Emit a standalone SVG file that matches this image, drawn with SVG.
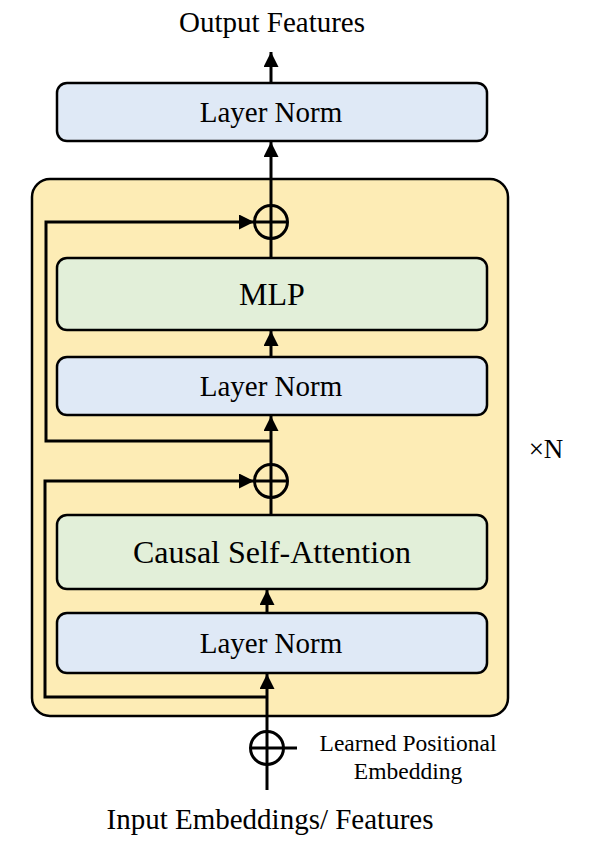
<svg xmlns="http://www.w3.org/2000/svg" width="590" height="850" viewBox="0 0 590 850">
<defs>
<style>
.box{stroke:#000;stroke-width:2.5}
.ln{fill:#DFE9F6}
.gr{fill:#E2EFD9}
.t{font-family:"Liberation Serif","Times New Roman",serif;fill:#000;text-anchor:middle}
.c{fill:none;stroke:#000;stroke-width:3}
.w{fill:none;stroke:#000;stroke-width:3}
</style>
<marker id="ah" viewBox="0 0 10 10" refX="10" refY="5" markerWidth="5" markerHeight="5" orient="auto" markerUnits="strokeWidth">
<path d="M0,0 L10,5 L0,10 Z" fill="#000"/>
</marker>
</defs>
<rect width="590" height="850" fill="#fff"/>
<g id="block">
<rect x="32" y="179" width="476" height="537" rx="18" fill="#FDECB5" stroke="#000" stroke-width="2.5"/>
</g>
<g id="ln_top">
<rect class="box ln" x="57" y="83" width="430" height="58" rx="10"/>
<text class="t" x="271" y="121.5" font-size="29">Layer Norm</text>
</g>
<g id="mlp">
<rect class="box gr" x="57" y="258" width="430" height="72" rx="10"/>
<text class="t" x="272" y="305" font-size="32">MLP</text>
</g>
<g id="ln2">
<rect class="box ln" x="57" y="357" width="430" height="58" rx="10"/>
<text class="t" x="271" y="395.5" font-size="29">Layer Norm</text>
</g>
<g id="attn">
<rect class="box gr" x="57" y="515" width="430" height="74" rx="10"/>
<text class="t" x="272" y="563" font-size="32">Causal Self-Attention</text>
</g>
<g id="ln1">
<rect class="box ln" x="57" y="613" width="430" height="60" rx="10"/>
<text class="t" x="271" y="653" font-size="29">Layer Norm</text>
</g>
<g id="add_top">
<circle class="c" cx="271" cy="222" r="16.5"/>
<path class="w" d="M254.5,222 H287.5 M271,205.5 V238.5"/>
</g>
<g id="add_mid">
<circle class="c" cx="271" cy="481" r="16.5"/>
<path class="w" d="M254.5,481 H287.5 M271,464.5 V497.5"/>
</g>
<g id="add_pos">
<circle class="c" cx="267" cy="748" r="16.5"/>
<path class="w" d="M250.5,748 H297 M267,731.5 V764.5"/>
</g>
<g id="labels">
<text class="t" x="272" y="32" font-size="29">Output Features</text>
<text class="t" x="270" y="829" font-size="29">Input Embeddings/ Features</text>
<text class="t" x="408" y="751" font-size="23.5">Learned Positional</text>
<text class="t" x="408" y="779" font-size="23.5">Embedding</text>
<text class="t" x="546" y="458" font-size="27">×N</text>
</g>
<g id="connectors">
<path class="w" d="M267,790 V764.5"/>
<path class="w" d="M267,731.5 V674" marker-end="url(#ah)"/>
<path class="w" d="M267,613 V590" marker-end="url(#ah)"/>
<path class="w" d="M271,515 V497.5"/>
<path class="w" d="M271,464.5 V416" marker-end="url(#ah)"/>
<path class="w" d="M271,357 V331" marker-end="url(#ah)"/>
<path class="w" d="M271,258 V238.5"/>
<path class="w" d="M271,205.5 V142" marker-end="url(#ah)"/>
<path class="w" d="M271,83 V52" marker-end="url(#ah)"/>
<path class="w" d="M267,697 H45 V481 H254" marker-end="url(#ah)"/>
<path class="w" d="M271,441 H46 V222 H254" marker-end="url(#ah)"/>
</g>
</svg>
